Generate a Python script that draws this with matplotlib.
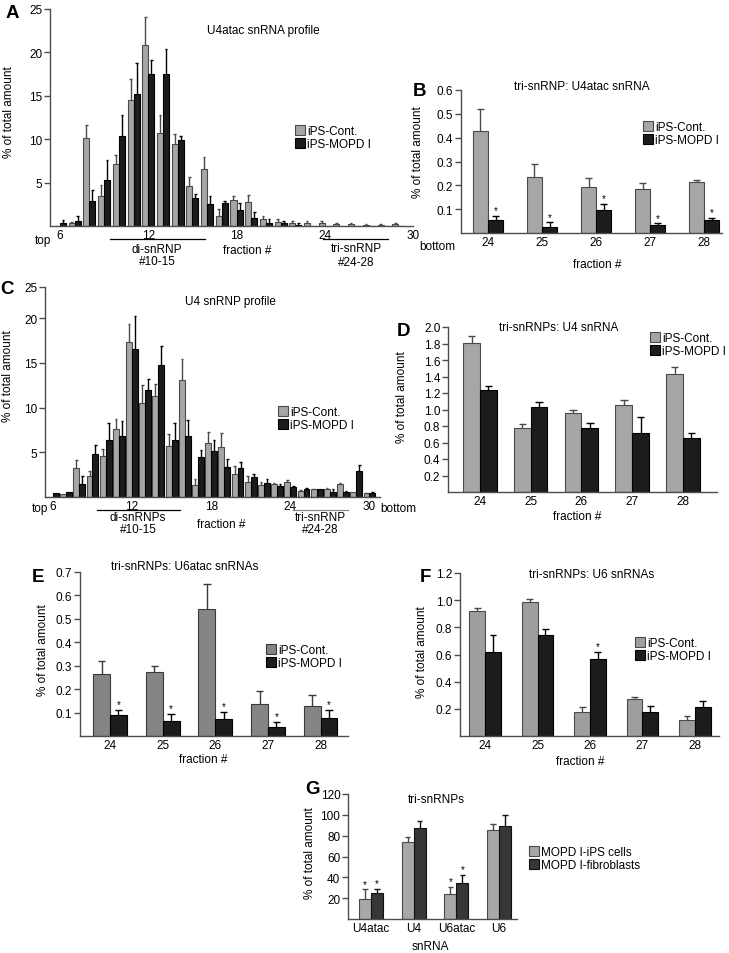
import numpy as np
import matplotlib
matplotlib.use('Agg')
import matplotlib.pyplot as plt
from matplotlib.patches import Patch

plt.rcParams['font.family'] = ['Liberation Sans', 'DejaVu Sans']
plt.rcParams['font.size'] = 8.5

# ---------------- data ----------------
series_labels = ['iPS-Cont.', 'iPS-MOPD I']

# Panel A: U4atac snRNA profile (fractions 6-29)
a_fractions = list(range(6, 30))
a_cont = [0, 0.3, 10.1, 3.5, 7.2, 14.5, 20.8, 10.7, 9.5, 4.6, 6.6, 1.2, 3.0, 2.8, 0.8, 0.5, 0.3, 0.3, 0.3, 0.2, 0.2, 0.1, 0.1, 0.2]
a_cont_err = [0, 0.2, 1.5, 1.2, 1.0, 2.4, 3.3, 2.1, 1.1, 1.1, 1.4, 0.8, 0.4, 0.8, 0.3, 0.3, 0.3, 0.3, 0.3, 0.2, 0.1, 0.1, 0.1, 0.2]
a_mopd = [0.3, 0.6, 2.9, 5.3, 10.4, 15.2, 17.5, 17.5, 9.9, 3.2, 2.5, 2.7, 1.8, 0.9, 0.4, 0.4, 0.1, 0, 0, 0, 0, 0, 0, 0]
a_mopd_err = [0.4, 0.5, 1.2, 2.3, 2.4, 3.6, 1.6, 2.9, 0.5, 0.5, 0.9, 0.2, 0.8, 0.7, 0.4, 0.2, 0.2, 0, 0, 0, 0, 0, 0, 0]
profile_ticks = [6, 12, 18, 24, 30]

# Panel B: tri-snRNP U4atac
tri_fractions = ['24', '25', '26', '27', '28']
b_cont = [0.43, 0.233, 0.195, 0.184, 0.213]
b_cont_err = [0.09, 0.055, 0.035, 0.026, 0.009]
b_mopd = [0.055, 0.027, 0.098, 0.035, 0.055]
b_mopd_err = [0.018, 0.018, 0.024, 0.005, 0.010]

# Panel C: U4 snRNP profile (fractions 6-30)
c_fractions = list(range(6, 31))
c_cont = [0, 0.3, 3.2, 2.4, 4.6, 7.6, 17.4, 10.5, 11.3, 5.7, 13.1, 1.3, 6.0, 5.6, 2.6, 1.7, 1.3, 1.4, 1.7, 0.7, 0.9, 0.9, 1.4, 0.6, 0.4]
c_cont_err = [0, 0, 0.9, 0.5, 0.8, 1.1, 2.0, 2.0, 1.3, 1.4, 2.3, 0.7, 1.3, 1.6, 0.9, 0.6, 0.4, 0.2, 0.2, 0.1, 0.05, 0.1, 0.2, 0, 0.1]
c_mopd = [0.5, 0.6, 1.5, 4.8, 6.4, 6.8, 16.6, 12.0, 14.8, 6.4, 6.8, 4.5, 5.2, 3.4, 3.3, 2.2, 1.6, 1.2, 1.1, 0.9, 0.9, 0.6, 0.6, 2.9, 0.5]
c_mopd_err = [0, 0, 0.8, 1.0, 1.9, 1.7, 3.6, 1.2, 2.1, 1.9, 1.8, 0.8, 1.2, 0.8, 0.6, 0.4, 0.4, 0.2, 0.1, 0.1, 0, 0.3, 0.1, 0.7, 0.1]

# Panel D: tri-snRNPs U4
d_cont = [1.81, 0.78, 0.96, 1.05, 1.43]
d_cont_err = [0.08, 0.05, 0.04, 0.06, 0.08]
d_mopd = [1.24, 1.03, 0.77, 0.71, 0.66]
d_mopd_err = [0.05, 0.06, 0.07, 0.20, 0.06]

# Panel E: tri-snRNPs U6atac
e_cont = [0.263, 0.275, 0.543, 0.138, 0.129]
e_cont_err = [0.056, 0.025, 0.104, 0.055, 0.045]
e_mopd = [0.090, 0.064, 0.074, 0.038, 0.077]
e_mopd_err = [0.021, 0.031, 0.028, 0.022, 0.034]

# Panel F: tri-snRNPs U6
f_cont = [0.92, 0.99, 0.18, 0.27, 0.12]
f_cont_err = [0.025, 0.02, 0.03, 0.02, 0.03]
f_mopd = [0.62, 0.74, 0.57, 0.18, 0.21]
f_mopd_err = [0.12, 0.05, 0.05, 0.04, 0.05]

# Panel G
g_categories = ['U4atac', 'U4', 'U6atac', 'U6']
g_labels = ['MOPD I-iPS cells', 'MOPD I-fibroblasts']
g_ips = [19, 74, 24, 85]
g_ips_err = [9.5, 5, 6.5, 6]
g_fib = [24.5, 87, 34.5, 89.5]
g_fib_err = [4.2, 7, 8, 10]

# ---------------- helpers ----------------
W, H = 729, 954
fig = plt.figure(figsize=(W / 100, H / 100), dpi=100)

GRAY = '#a6a6a6'
BLACK = '#1c1c1c'
EDGE_G = '#4a4a4a'
SPINE = '#4d4d4d'


def add_ax(l, t, r, b):
    ax = fig.add_axes([l / W, 1 - b / H, (r - l) / W, (b - t) / H])
    for s in ['top', 'right']:
        ax.spines[s].set_visible(False)
    for s in ['left', 'bottom']:
        ax.spines[s].set_color(SPINE)
        ax.spines[s].set_linewidth(1.0)
    ax.tick_params(axis='y', direction='out', length=4, width=1, color=SPINE, pad=1.5, labelsize=8.5)
    ax.tick_params(axis='x', length=0, pad=2.5, labelsize=8.5)
    ax.patch.set_alpha(0)
    return ax


def ftext(x, y, s, **kw):
    kw.setdefault('ha', 'center')
    kw.setdefault('va', 'center')
    fig.text(x / W, 1 - y / H, s, **kw)


def fline(x0, x1, y, color='black', lw=0.9):
    fig.add_artist(plt.Line2D([x0 / W, x1 / W], [1 - y / H, 1 - y / H], color=color, lw=lw))


def errs(ax, xs, vals, es, color, cap):
    xs = np.asarray(xs, float)
    vals = np.asarray(vals, float)
    es = np.asarray(es, float)
    m = es > 0
    ax.vlines(xs[m], vals[m], vals[m] + es[m], color=color, lw=1.0)
    ax.hlines(vals[m] + es[m], xs[m] - cap, xs[m] + cap, color=color, lw=1.0)


def pair(ax, x, v1, e1, v2, e2, w, c1, c2, ec1=EDGE_G, ec2='black', stars1=None, stars2=None):
    x = np.asarray(x, float)
    b1 = ax.bar(x - w / 2, v1, w, color=c1, edgecolor=ec1, linewidth=0.8)
    b2 = ax.bar(x + w / 2, v2, w, color=c2, edgecolor=ec2, linewidth=0.8)
    errs(ax, x - w / 2, v1, e1, ec1, w * 0.22)
    errs(ax, x + w / 2, v2, e2, ec2, w * 0.22)
    for stars, xs, v, e in [(stars1, x - w / 2, v1, e1), (stars2, x + w / 2, v2, e2)]:
        if stars is None:
            continue
        for i in stars:
            ax.annotate('*', (xs[i], v[i] + e[i]), xytext=(0, 0.5), textcoords='offset points',
                        ha='center', va='bottom', fontsize=7)
    return b1, b2


def legend(x, y, labels, c1, c2, ec1=EDGE_G, ec2='black'):
    h = [Patch(facecolor=c1, edgecolor=ec1, lw=0.8), Patch(facecolor=c2, edgecolor=ec2, lw=0.8)]
    fig.legend(h, labels, loc='upper left', bbox_to_anchor=(x / W, 1 - y / H), frameon=False,
               borderpad=0, borderaxespad=0, handlelength=0.85, handleheight=0.85,
               handletextpad=0.15, labelspacing=0.08, fontsize=8.5)


def ylab(x, y, s='% of total amount'):
    ftext(x, y, s, rotation=90, fontsize=8.5)


def letter(x, y, s):
    ftext(x, y, s, fontsize=13.5, fontweight='bold')


# ---------------- Panel A ----------------
ax = add_ax(50, 10, 413, 227)
pair(ax, a_fractions, a_cont, a_cont_err, a_mopd, a_mopd_err, 0.41, GRAY, BLACK)
ax.set_xlim(5.32, 30.0)
ax.set_ylim(0, 25)
ax.set_yticks([5, 10, 15, 20, 25])
ax.set_xticks(profile_ticks)
ax.set_xticklabels([str(t) for t in profile_ticks])
ftext(263, 31, 'U4atac snRNA profile')
legend(295, 126, series_labels, GRAY, BLACK)
letter(12, 13, 'A')
ylab(9, 112)
ftext(43, 241, 'top')
ftext(437, 247, 'bottom')
fline(110, 205, 240)
ftext(157, 250, 'di-snRNP')
ftext(157, 262, '#10-15')
ftext(247, 251, 'fraction #')
fline(323, 388, 240)
ftext(356, 249, 'tri-snRNP')
ftext(356, 263, '#24-28')

# ---------------- Panel B ----------------
ax = add_ax(461, 91, 722, 234)
xb = np.arange(len(tri_fractions))
pair(ax, xb, b_cont, b_cont_err, b_mopd, b_mopd_err, 0.28, GRAY, BLACK, stars2=range(5))
ax.set_xlim(-0.5, 4.33)
ax.set_ylim(0, 0.6)
ax.set_yticks([0.1, 0.2, 0.3, 0.4, 0.5, 0.6])
ax.set_xticks(xb)
ax.set_xticklabels(tri_fractions)
ftext(582, 87, 'tri-snRNP: U4atac snRNA')
ftext(597, 265, 'fraction #')
legend(643, 122, series_labels, GRAY, BLACK)
letter(419, 92, 'B')
ylab(418, 152)

# ---------------- Panel C ----------------
ax = add_ax(45, 288, 380, 498)
pair(ax, c_fractions, c_cont, c_cont_err, c_mopd, c_mopd_err, 0.45, GRAY, BLACK)
ax.set_xlim(5.4, 30.8)
ax.set_ylim(0, 23.5)
ax.set_yticks([5, 10, 15, 20, 23.5])
ax.set_yticklabels(['5', '10', '15', '20', '25'])
ax.set_xticks(profile_ticks)
ax.set_xticklabels([str(t) for t in profile_ticks])
ftext(230, 302, 'U4 snRNP profile')
legend(278, 407, series_labels, GRAY, BLACK)
letter(7, 290, 'C')
ylab(8, 376)
ftext(40, 509, 'top')
ftext(398, 509, 'bottom')
fline(97, 180, 511)
ftext(138, 518, 'di-snRNPs')
ftext(138, 530, '#10-15')
ftext(221, 525, 'fraction #')
fline(293, 348, 511, color='#8a8a8a')
ftext(320, 518, 'tri-snRNP')
ftext(320, 530, '#24-28')

# ---------------- Panel D ----------------
ax = add_ax(448, 328, 717, 493)
xd = np.arange(5)
pair(ax, xd, d_cont, d_cont_err, d_mopd, d_mopd_err, 0.33, GRAY, BLACK)
ax.set_xlim(-0.63, 4.67)
ax.set_ylim(0, 2.0)
ax.set_yticks(np.round(np.arange(0.2, 2.01, 0.2), 1))
ax.set_yticklabels([f'{v:.1f}' for v in np.arange(0.2, 2.01, 0.2)])
ax.set_xticks(xd)
ax.set_xticklabels(tri_fractions)
ftext(559, 328, 'tri-snRNPs: U4 snRNA')
ftext(577, 517, 'fraction #')
legend(650, 333, series_labels, GRAY, BLACK)
letter(403, 331, 'D')
ylab(402, 397)

# ---------------- Panel E ----------------
E_GRAY = '#858585'
ax = add_ax(80, 573, 348, 737)
xe = np.arange(5)
pair(ax, xe, e_cont, e_cont_err, e_mopd, e_mopd_err, 0.32, E_GRAY, BLACK, ec1='#3a3a3a', stars2=range(5))
ax.set_xlim(-0.57, 4.52)
ax.set_ylim(0, 0.7)
ax.set_yticks([0.1, 0.2, 0.3, 0.4, 0.5, 0.6, 0.7])
ax.set_xticks(xe)
ax.set_xticklabels(tri_fractions)
ftext(185, 567, 'tri-snRNPs: U6atac snRNAs')
ftext(203, 760, 'fraction #')
legend(266, 645, series_labels, E_GRAY, BLACK, ec1='#3a3a3a')
letter(38, 577, 'E')
ylab(43, 650)

# ---------------- Panel F ----------------
F_GRAY = '#9e9e9e'
ax = add_ax(460, 574, 719, 737)
xf = np.arange(5)
pair(ax, xf, f_cont, f_cont_err, f_mopd, f_mopd_err, 0.30, F_GRAY, BLACK, stars2=[2])
ax.set_xlim(-0.48, 4.46)
ax.set_ylim(0, 1.2)
ax.set_yticks([0.2, 0.4, 0.6, 0.8, 1.0, 1.2])
ax.set_yticklabels(['0.2', '0.4', '0.6', '0.8', '1.0', '1.2'])
ax.set_xticks(xf)
ax.set_xticklabels(tri_fractions)
ftext(592, 575, 'tri-snRNPs: U6 snRNAs')
ftext(580, 762, 'fraction #')
legend(635, 638, series_labels, F_GRAY, BLACK)
letter(425, 578, 'F')
ylab(422, 652)

# ---------------- Panel G ----------------
G_LIGHT = '#a8a8a8'
G_DARK = '#363636'
ax = add_ax(348, 795, 517, 920)
xg = np.arange(len(g_categories))
pair(ax, xg, g_ips, g_ips_err, g_fib, g_fib_err, 0.28, G_LIGHT, G_DARK, ec2='#111111',
     stars1=[0, 2], stars2=[0, 2])
ax.set_xlim(-0.54, 3.42)
ax.set_ylim(0, 120)
ax.set_yticks([20, 40, 60, 80, 100, 120])
ax.set_xticks(xg)
ax.set_xticklabels(g_categories)
ftext(436, 800, 'tri-snRNPs')
ftext(430, 947, 'snRNA')
legend(529, 847, g_labels, G_LIGHT, G_DARK, ec2='#111111')
letter(312, 790, 'G')
ylab(310, 853)

fig.savefig('out.png', dpi=100)
